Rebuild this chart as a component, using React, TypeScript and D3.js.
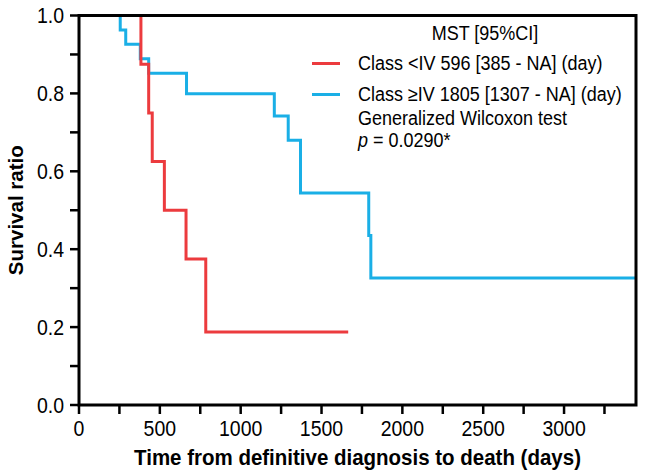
import React from "react";
import * as d3 from "d3";

const redTimes = [0, 383, 431, 453, 528, 662, 784, 1665];
const redSurv = [1, 0.875, 0.75, 0.625, 0.5, 0.375, 0.1875, 0.1875];
const blueTimes = [0, 255, 289, 379, 431, 665, 1208, 1294, 1370, 1792, 1805, 3445];
const blueSurv = [1, 0.963, 0.926, 0.889, 0.852, 0.799, 0.742, 0.68, 0.544, 0.435, 0.326, 0.326];
const xMajorTicks = [0, 500, 1000, 1500, 2000, 2500, 3000];
const xMinorTicks = [250, 750, 1250, 1750, 2250, 2750, 3250];
const yMajorTicks = [0, 0.2, 0.4, 0.6, 0.8, 1.0];
const yMinorTicks = [0.1, 0.3, 0.5, 0.7, 0.9];
const legendTitle = "MST [95%CI]";
const legendRed = "Class <IV 596 [385 - NA] (day)";
const legendBlue = "Class \u2265IV 1805 [1307 - NA] (day)";
const testName = "Generalized Wilcoxon test";
const pValue = " = 0.0290*";
const xTitle = "Time from definitive diagnosis to death (days)";
const yTitle = "Survival ratio";

const RED = "#EC3B3E";
const BLUE = "#1AAFE6";
const FONT = "'Liberation Sans', Arial, sans-serif";
const SY = 1.1;

function T(props: { x: number; y: number; size: number; anchor?: string; bold?: boolean; children: React.ReactNode }) {
  return (
    <g transform={`translate(${props.x},${props.y}) scale(1,${SY})`}>
      <text
        x={0}
        y={0}
        textAnchor={props.anchor || "start"}
        fontSize={props.size}
        fontWeight={props.bold ? "bold" : "normal"}
        fill="#000"
      >
        {props.children}
      </text>
    </g>
  );
}

export default function App() {
  const W = 646, H = 476;
  const x = d3.scaleLinear().domain([0, 3445]).range([79, 636]);
  const y = d3.scaleLinear().domain([0, 1]).range([405, 15.5]);
  const line = d3
    .line<[number, number]>()
    .x((d) => x(d[0]))
    .y((d) => y(d[1]))
    .curve(d3.curveStepAfter);
  const redPts = redTimes.map((t, i) => [t, redSurv[i]] as [number, number]);
  const bluePts = blueTimes.map((t, i) => [t, blueSurv[i]] as [number, number]);
  const x0 = x(0), x1 = x(3445), y0 = y(0), y1 = y(1);

  return (
    <svg width={W} height={H} style={{ position: "absolute", left: 0, top: 0, background: "#fff" }} fontFamily={FONT}>
      <rect width={W} height={H} fill="#fff" />
      <path d={line(bluePts) || ""} fill="none" stroke={BLUE} strokeWidth={3} />
      <path d={line(redPts) || ""} fill="none" stroke={RED} strokeWidth={3} />
      <path d={`M${x0},${y0}H${x1}V${y1}H${x0}Z`} fill="none" stroke="#000" strokeWidth={3} />
      {yMajorTicks.map((v) => (
        <g key={"ym" + v}>
          <line x1={x0 - 9} x2={x0} y1={y(v)} y2={y(v)} stroke="#000" strokeWidth={2.5} />
          <T x={x0 - 15} y={y(v) + 7.5} size={19.5} anchor="end">
            {v.toFixed(1)}
          </T>
        </g>
      ))}
      {yMinorTicks.map((v) => (
        <line key={"yn" + v} x1={x0 - 9} x2={x0} y1={y(v)} y2={y(v)} stroke="#000" strokeWidth={2.5} />
      ))}
      {xMajorTicks.map((v) => (
        <g key={"xm" + v}>
          <line x1={x(v)} x2={x(v)} y1={y0} y2={y0 + 9} stroke="#000" strokeWidth={2.5} />
          <T x={x(v)} y={y0 + 31} size={19.5} anchor="middle">
            {v}
          </T>
        </g>
      ))}
      {xMinorTicks.map((v) => (
        <line key={"xn" + v} x1={x(v)} x2={x(v)} y1={y0} y2={y0 + 9} stroke="#000" strokeWidth={2.5} />
      ))}
      <T x={(x0 + x1) / 2} y={465} size={20.5} anchor="middle" bold>
        {xTitle}
      </T>
      <text
        transform={`translate(22.5,${(y0 + y1) / 2}) rotate(-90)`}
        textAnchor="middle"
        fontSize={20.5}
        fontWeight="bold"
        fill="#000"
      >
        {yTitle}
      </text>
      <T x={485} y={40} size={18} anchor="middle">
        {legendTitle}
      </T>
      <line x1={312} x2={340} y1={63.5} y2={63.5} stroke={RED} strokeWidth={3} />
      <T x={358} y={70} size={18}>
        {legendRed}
      </T>
      <line x1={312} x2={340} y1={94.5} y2={94.5} stroke={BLUE} strokeWidth={3} />
      <T x={358} y={101} size={18}>
        {legendBlue}
      </T>
      <T x={358} y={125} size={18}>
        {testName}
      </T>
      <T x={358} y={147} size={18}>
        <tspan fontStyle="italic">p</tspan>
        <tspan>{pValue}</tspan>
      </T>
    </svg>
  );
}
